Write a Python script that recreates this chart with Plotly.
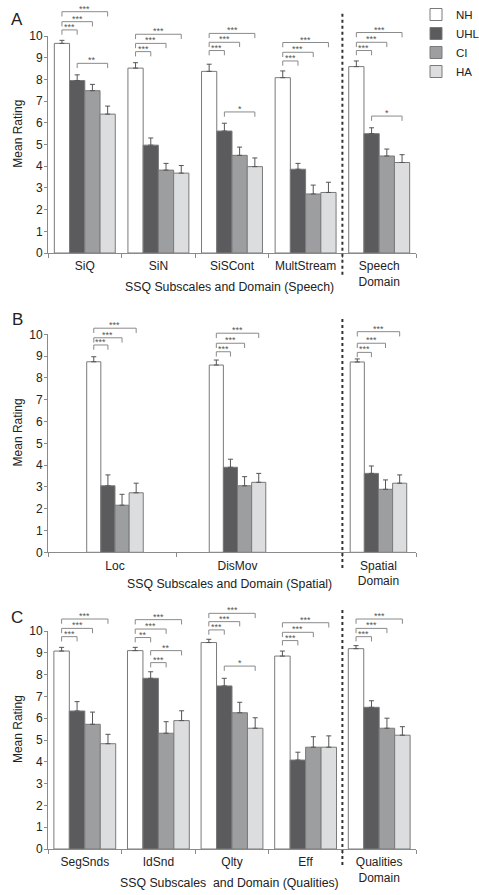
import plotly.graph_objects as go

# ---------------- data ----------------
groups = ["NH", "UHL", "CI", "HA"]
group_colors = ["#ffffff", "#5b5b5d", "#9d9ea0", "#dcdddf"]

# Panel A (Speech)
a_cats = ["SiQ", "SiN", "SiSCont", "MultStream", "Speech<br>Domain"]
a_nh = [9.66, 8.52, 8.37, 8.08, 8.59]
a_uhl = [7.95, 4.97, 5.62, 3.86, 5.50]
a_ci = [7.48, 3.82, 4.50, 2.72, 4.47]
a_ha = [6.40, 3.68, 3.98, 2.79, 4.17]
a_nh_err = [0.14, 0.25, 0.33, 0.31, 0.26]
a_uhl_err = [0.26, 0.33, 0.36, 0.27, 0.27]
a_ci_err = [0.29, 0.31, 0.38, 0.41, 0.32]
a_ha_err = [0.37, 0.35, 0.40, 0.47, 0.36]
# (category index, group from, group to, level, label)
a_sig = [
    (0, 0, 1, 10.28, "***"), (0, 0, 2, 10.66, "***"), (0, 0, 3, 11.12, "***"), (0, 1, 3, 8.74, "**"),
    (1, 0, 1, 9.28, "***"), (1, 0, 2, 9.66, "***"), (1, 0, 3, 10.08, "***"),
    (2, 0, 1, 9.33, "***"), (2, 0, 2, 9.71, "***"), (2, 0, 3, 10.12, "***"), (2, 1, 3, 6.50, "*"),
    (3, 0, 1, 8.85, "***"), (3, 0, 2, 9.25, "***"), (3, 0, 3, 9.70, "***"),
    (4, 0, 1, 9.33, "***"), (4, 0, 2, 9.71, "***"), (4, 0, 3, 10.16, "***"), (4, 1, 3, 6.31, "*"),
]

# Panel B (Spatial)
b_cats = ["Loc", "DisMov", "Spatial<br>Domain"]
b_nh = [8.74, 8.59, 8.73]
b_uhl = [3.05, 3.90, 3.62]
b_ci = [2.16, 3.05, 2.89]
b_ha = [2.73, 3.21, 3.17]
b_nh_err = [0.23, 0.23, 0.14]
b_uhl_err = [0.50, 0.37, 0.34]
b_ci_err = [0.50, 0.42, 0.43]
b_ha_err = [0.44, 0.41, 0.38]
b_sig = [
    (0, 0, 1, 9.51, "***"), (0, 0, 2, 9.84, "***"), (0, 0, 3, 10.28, "***"),
    (1, 0, 1, 9.20, "***"), (1, 0, 2, 9.59, "***"), (1, 0, 3, 10.05, "***"),
    (2, 0, 1, 9.17, "***"), (2, 0, 2, 9.59, "***"), (2, 0, 3, 10.12, "***"),
]

# Panel C (Qualities)
c_cats = ["SegSnds", "IdSnd", "Qlty", "Eff", "Qualities<br>Domain"]
c_nh = [9.08, 9.10, 9.47, 8.85, 9.19]
c_uhl = [6.33, 7.83, 7.48, 4.08, 6.50]
c_ci = [5.72, 5.31, 6.25, 4.67, 5.54]
c_ha = [4.83, 5.89, 5.54, 4.67, 5.22]
c_nh_err = [0.17, 0.15, 0.15, 0.23, 0.14]
c_uhl_err = [0.43, 0.30, 0.35, 0.36, 0.30]
c_ci_err = [0.56, 0.53, 0.48, 0.48, 0.46]
c_ha_err = [0.43, 0.45, 0.48, 0.52, 0.39]
c_sig = [
    (0, 0, 1, 9.74, "***"), (0, 0, 2, 10.12, "***"), (0, 0, 3, 10.55, "***"),
    (1, 0, 1, 9.70, "**"), (1, 0, 2, 10.09, "***"), (1, 0, 3, 10.52, "***"),
    (1, 1, 3, 9.10, "**"), (1, 1, 2, 8.55, "***"),
    (2, 0, 1, 10.05, "***"), (2, 0, 2, 10.43, "***"), (2, 0, 3, 10.81, "***"), (2, 1, 3, 8.39, "*"),
    (3, 0, 1, 9.56, "***"), (3, 0, 2, 9.94, "***"), (3, 0, 3, 10.38, "***"),
    (4, 0, 1, 9.74, "***"), (4, 0, 2, 10.12, "***"), (4, 0, 3, 10.55, "***"),
]

y_tick_vals = list(range(0, 11))
panel_letters = ["A", "B", "C"]
x_titles = [
    "SSQ Subscales and Domain (Speech)",
    "SSQ Subscales and Domain (Spatial)",
    "SSQ Subscales  and Domain (Qualities)",
]

# ---------------- layout constants (page pixels) ----------------
W, H = 479, 895
X0_PAGE, X1_PAGE = 48, 416   # plot area left/right
ML = X0_PAGE
MR = W - X1_PAGE
PW = X1_PAGE - X0_PAGE
FONT = "Arial, Liberation Sans, sans-serif"
AXIS_COL = "#8a8a8a"
TEXT_COL = "#222222"

panels = [
    dict(cats=a_cats, vals=[a_nh, a_uhl, a_ci, a_ha], errs=[a_nh_err, a_uhl_err, a_ci_err, a_ha_err],
         sig=a_sig, centers=[0.5, 1.5, 2.5, 3.5, 4.5], bounds=[0, 1, 2, 3, 4, 5], bw=0.207,
         y0px=253, y10px=36, toppx=0, div=(-1.0, 11.05), letter_px=20, xtitle_px=287),
    dict(cats=b_cats, vals=[b_nh, b_uhl, b_ci, b_ha], errs=[b_nh_err, b_uhl_err, b_ci_err, b_ha_err],
         sig=b_sig, centers=[0.91, 2.575, 4.49], bounds=[0, 1.74, 4, 5], bw=0.192,
         y0px=552.3, y10px=334.3, toppx=305, div=(-0.72, 10.84), letter_px=319, xtitle_px=584),
    dict(cats=c_cats, vals=[c_nh, c_uhl, c_ci, c_ha], errs=[c_nh_err, c_uhl_err, c_ci_err, c_ha_err],
         sig=c_sig, centers=[0.5, 1.5, 2.5, 3.5, 4.5], bounds=[0, 1, 2, 3, 4, 5], bw=0.21,
         y0px=849, y10px=631, toppx=600, div=(-0.73, 11.1), letter_px=617, xtitle_px=883),
]
OVER_LO = -1.2   # lower bound of the overlay (bracket) axes


def pyp(px):
    return 1 - px / H


def pxp(px):
    return (px - X0_PAGE) / PW


fig = go.Figure()
annotations = []
layout_axes = {}

for p_i, p in enumerate(panels):
    n = p_i + 1
    xa = "x" if n == 1 else f"x{n}"
    ya = "y" if n == 1 else f"y{n}"
    yb_n = n + 3
    yb = f"y{yb_n}"
    bw = p["bw"]
    unit = (p["y0px"] - p["y10px"]) / 10.0
    yb_hi = (p["y0px"] - p["toppx"]) / unit
    yb_lo_px = p["y0px"] - OVER_LO * unit

    for g_i, g in enumerate(groups):
        fig.add_trace(go.Bar(
            x=p["centers"], y=p["vals"][g_i], name=g,
            offset=(g_i - 2) * bw, width=bw,
            marker=dict(color=group_colors[g_i], line=dict(color="#7a7a7a", width=1)),
            error_y=dict(type="data", array=p["errs"][g_i], arrayminus=[0] * len(p["centers"]),
                         symmetric=False, color="#555555", thickness=1, width=2.5),
            xaxis=xa, yaxis=ya, showlegend=(n == 1),
        ))
    # significance brackets (on an invisible overlay axis with the same scale)
    bx, by = [], []
    drop = 0.22
    for (ci, g1, g2, lvl, lab) in p["sig"]:
        x1 = p["centers"][ci] + (g1 - 1.5) * bw
        x2 = p["centers"][ci] + (g2 - 1.5) * bw
        bx += [x1, x1, x2, x2, None]
        by += [lvl - drop, lvl, lvl, lvl - drop, None]
        annotations.append(dict(x=(x1 + x2) / 2, y=lvl, xref=xa, yref=yb, text=lab, showarrow=False,
                                xanchor="center", yanchor="bottom", yshift=-3, borderpad=0,
                                font=dict(size=9, color="#555555", family=FONT)))
    fig.add_trace(go.Scatter(x=bx, y=by, mode="lines", line=dict(color="#8a8a8a", width=1),
                             hoverinfo="skip", showlegend=False, xaxis=xa, yaxis=yb))
    # dotted divider between subscales and domain
    fig.add_trace(go.Scatter(x=[4, 4], y=list(p["div"]), mode="lines",
                             line=dict(color="#333333", width=2, dash="dot"),
                             hoverinfo="skip", showlegend=False, xaxis=xa, yaxis=yb))

    layout_axes["xaxis" if n == 1 else f"xaxis{n}"] = dict(
        domain=[0, 1], range=[0, 5], anchor=ya, showgrid=False, zeroline=False,
        showline=True, linecolor=AXIS_COL, linewidth=1,
        tickmode="array", tickvals=p["centers"], ticktext=p["cats"], ticks="",
        tickfont=dict(size=12, color=TEXT_COL, family=FONT), ticklabelstandoff=2,
        minor=dict(tickmode="array", tickvals=p["bounds"], ticks="outside", ticklen=4,
                   tickcolor=AXIS_COL, showgrid=False),
        fixedrange=True,
    )
    layout_axes["yaxis" if n == 1 else f"yaxis{n}"] = dict(
        domain=[pyp(p["y0px"]), pyp(p["y10px"])], range=[0, 10], anchor=xa,
        showgrid=False, zeroline=False, showline=True, linecolor=AXIS_COL, linewidth=1,
        tickmode="array", tickvals=y_tick_vals, ticks="outside", ticklen=3, tickcolor=AXIS_COL,
        tickfont=dict(size=12, color=TEXT_COL, family=FONT), ticklabelstandoff=-1, fixedrange=True,
    )
    layout_axes[f"yaxis{yb_n}"] = dict(
        domain=[pyp(yb_lo_px), pyp(p["toppx"])], range=[OVER_LO, yb_hi], anchor=xa,
        visible=False, showgrid=False, zeroline=False, fixedrange=True,
    )
    annotations.append(dict(x=pxp(18), y=5.5, xref="paper", yref=ya, text="Mean Rating", textangle=-90,
                            xanchor="center", yanchor="middle", showarrow=False,
                            font=dict(size=12, color=TEXT_COL, family=FONT)))
    annotations.append(dict(x=pxp(229), y=pyp(p["xtitle_px"]), xref="paper", yref="paper",
                            text=x_titles[p_i], showarrow=False, xanchor="center", yanchor="middle",
                            font=dict(size=12.3, color=TEXT_COL, family=FONT)))
    annotations.append(dict(x=pxp(17), y=pyp(p["letter_px"]), xref="paper", yref="paper",
                            text=panel_letters[p_i], showarrow=False, xanchor="center", yanchor="middle",
                            font=dict(size=17, color=TEXT_COL, family=FONT)))

fig.update_layout(
    width=W, height=H,
    margin=dict(l=ML, r=MR, t=0, b=0, autoexpand=False),
    paper_bgcolor="white", plot_bgcolor="rgba(0,0,0,0)",
    barmode="overlay",
    font=dict(family=FONT, color=TEXT_COL),
    legend=dict(x=pxp(416), y=1, xanchor="left", yanchor="top", tracegroupgap=0,
                font=dict(size=11.5, color=TEXT_COL, family=FONT),
                bgcolor="rgba(0,0,0,0)", borderwidth=0, itemclick=False, itemdoubleclick=False),
    annotations=annotations,
    **layout_axes,
)

# remove the browser's default 8px page margin so the figure fills the window exactly
fig.write_html("out.html", config={"displayModeBar": False},
               post_script="document.body.style.margin='0';")
